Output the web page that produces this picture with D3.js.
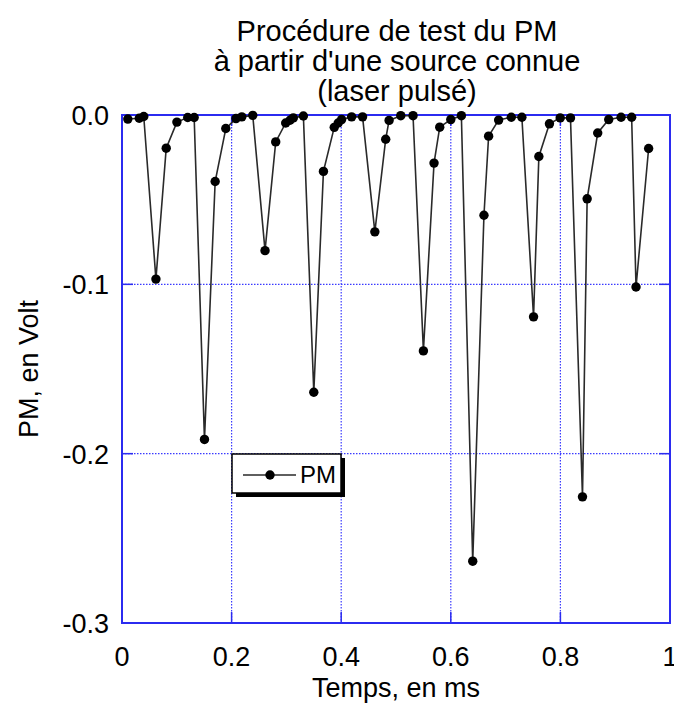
<!DOCTYPE html>
<html>
<head>
<meta charset="utf-8">
<script src="https://cdn.jsdelivr.net/npm/d3@7"></script>
<style>
  html, body { margin: 0; padding: 0; background: #fff; }
  text { font-family: "Liberation Sans", Arial, Helvetica, sans-serif; fill: #000; }
</style>
</head>
<body>
<svg id="chart" width="674" height="704"></svg>
<script>
// ---- data ----
const titleLines = ["Procédure de test du PM", "à partir d'une source connue", "(laser pulsé)"];
const xLabel = "Temps, en ms";
const yLabel = "PM, en Volt";
const seriesName = "PM";
const xTicks = [0, 0.2, 0.4, 0.6, 0.8, 1];
const xTickLabels = ["0", "0.2", "0.4", "0.6", "0.8", "1"];
const yTicks = [0, -0.1, -0.2, -0.3];
const yTickLabels = ["0.0", "-0.1", "-0.2", "-0.3"];
const timeMs = [
  0.0106, 0.0315, 0.0397, 0.0619, 0.0807, 0.1002, 0.1199, 0.1317, 0.1505, 0.170,
  0.1894, 0.208, 0.2186, 0.2386, 0.261, 0.2805, 0.2987, 0.3066, 0.3126, 0.331,
  0.350, 0.3676, 0.3873, 0.3945, 0.4007, 0.419, 0.439, 0.4614, 0.4812, 0.4874,
  0.5087, 0.5311, 0.550, 0.5694, 0.5798, 0.600, 0.6193, 0.640, 0.6605, 0.669,
  0.6873, 0.7104, 0.7297, 0.751, 0.7607, 0.780, 0.7996, 0.8184, 0.8403, 0.8488,
  0.8681, 0.8882, 0.9107, 0.930, 0.938, 0.961
];
const pmVolt = [
  -0.0024, -0.0019, -0.0009, -0.0969, -0.0196, -0.0042, -0.0015, -0.0015, -0.1916, -0.0393,
  -0.0080, -0.0021, -0.0011, -0.0002, -0.0801, -0.0159, -0.0047, -0.0031, -0.0017, -0.0006,
  -0.1637, -0.0333, -0.0073, -0.0047, -0.0027, -0.0011, -0.0011, -0.0690, -0.0143, -0.0032,
  -0.0004, -0.0004, -0.1393, -0.0284, -0.0072, -0.0027, -0.0004, -0.2635, -0.0592, -0.0125,
  -0.0030, -0.0013, -0.0013, -0.1192, -0.0245, -0.0052, -0.0017, -0.0017, -0.2255, -0.0495,
  -0.0106, -0.0027, -0.0013, -0.0013, -0.1016, -0.0198
];

// ---- layout ----
const L = 122, R = 670, T = 115, B = 623;
const blue = "#2b2bf0";
const svg = d3.select("#chart");
const x = d3.scaleLinear().domain([0, 1]).range([L, R]);
const y = d3.scaleLinear().domain([-0.3, 0]).range([B, T]);
const points = timeMs.map((t, i) => ({ t, v: pmVolt[i] }));

// grid (dotted)
const g = svg.append("g");
g.selectAll(".gx").data(xTicks.slice(1, -1)).join("line")
  .attr("x1", d => x(d)).attr("x2", d => x(d)).attr("y1", T).attr("y2", B)
  .attr("stroke", "#3a3aff").attr("stroke-width", 1.2).attr("stroke-dasharray", "1.5,1.5");
g.selectAll(".gy").data(yTicks.slice(1, -1)).join("line")
  .attr("y1", d => y(d)).attr("y2", d => y(d)).attr("x1", L).attr("x2", R)
  .attr("stroke", "#3a3aff").attr("stroke-width", 1.2).attr("stroke-dasharray", "1.5,1.5");

// ticks on all four sides (inward)
const tk = 11;
const xInner = xTicks.slice(1, -1), yInner = yTicks.slice(1, -1);
g.selectAll(".tb").data(xInner).join("line")
  .attr("x1", d => x(d)).attr("x2", d => x(d)).attr("y1", B).attr("y2", B - tk)
  .attr("stroke", blue).attr("stroke-width", 1.5);
g.selectAll(".tt").data(xInner).join("line")
  .attr("x1", d => x(d)).attr("x2", d => x(d)).attr("y1", T).attr("y2", T + tk)
  .attr("stroke", blue).attr("stroke-width", 1.5);
g.selectAll(".tl").data(yInner).join("line")
  .attr("y1", d => y(d)).attr("y2", d => y(d)).attr("x1", L).attr("x2", L + tk)
  .attr("stroke", blue).attr("stroke-width", 1.5);
g.selectAll(".tr").data(yInner).join("line")
  .attr("y1", d => y(d)).attr("y2", d => y(d)).attr("x1", R).attr("x2", R - tk)
  .attr("stroke", blue).attr("stroke-width", 1.5);

// frame
svg.append("rect").attr("x", L).attr("y", T).attr("width", R - L).attr("height", B - T)
  .attr("fill", "none").attr("stroke", blue).attr("stroke-width", 2);

// tick labels
svg.selectAll(".xl").data(xTicks).join("text")
  .attr("x", d => x(d)).attr("y", B + 43).attr("text-anchor", "middle")
  .attr("font-size", 27).text((d, i) => xTickLabels[i]);
svg.selectAll(".yl").data(yTicks).join("text")
  .attr("x", L - 13).attr("y", d => y(d) + 10).attr("text-anchor", "end")
  .attr("font-size", 27).text((d, i) => yTickLabels[i]);

// axis titles
svg.append("text").attr("x", (L + R) / 2).attr("y", B + 74).attr("text-anchor", "middle")
  .attr("font-size", 27).text(xLabel);
svg.append("text").attr("transform", `translate(38,${(T + B) / 2}) rotate(-90)`)
  .attr("text-anchor", "middle").attr("font-size", 27).text(yLabel);

// title
svg.selectAll(".title").data(titleLines).join("text")
  .attr("x", 397).attr("y", (d, i) => 41 + i * 30).attr("text-anchor", "middle")
  .attr("font-size", 29).text(d => d);

// series
const line = d3.line().x(d => x(d.t)).y(d => y(d.v));
svg.append("path").datum(points).attr("d", line)
  .attr("fill", "none").attr("stroke", "#2a2a2a").attr("stroke-width", 1.6);
svg.selectAll(".pt").data(points).join("circle")
  .attr("cx", d => x(d.t)).attr("cy", d => y(d.v)).attr("r", 4.7).attr("fill", "#000");

// legend
const lg = svg.append("g");
const lx = 232, ly = 454, lw = 109, lh = 39;
lg.append("rect").attr("x", lx + 4).attr("y", ly + 4).attr("width", lw).attr("height", lh).attr("fill", "#000");
lg.append("rect").attr("x", lx).attr("y", ly).attr("width", lw).attr("height", lh)
  .attr("fill", "#fff").attr("stroke", "#000").attr("stroke-width", 1.5);
lg.append("line").attr("x1", lx + 11).attr("x2", lx + 64).attr("y1", ly + 21).attr("y2", ly + 21)
  .attr("stroke", "#2a2a2a").attr("stroke-width", 1.6);
lg.append("circle").attr("cx", lx + 38).attr("cy", ly + 21).attr("r", 4.7).attr("fill", "#000");
lg.append("text").attr("x", lx + 68).attr("y", ly + 29).attr("font-size", 24).text(seriesName);
</script>
</body>
</html>
